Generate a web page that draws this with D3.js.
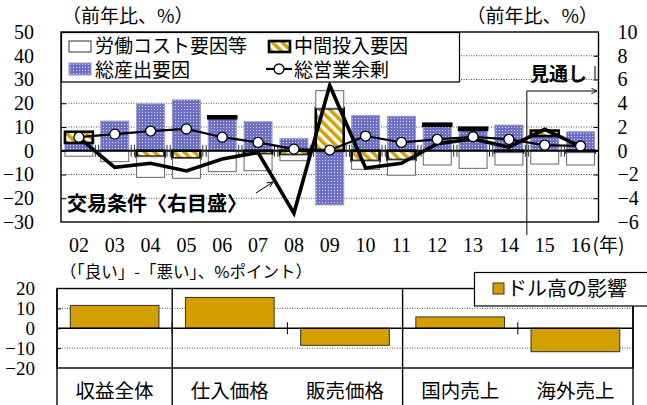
<!DOCTYPE html>
<html>
<head>
<meta charset="utf-8">
<script src="https://cdn.jsdelivr.net/npm/d3@7"></script>
<style>
  html, body { margin: 0; padding: 0; background: #fff; }
  svg { display: block; }
</style>
</head>
<body>
<svg id="chart" width="647" height="405"></svg>
<script>
// ---- data: profit decomposition (year-on-year %) ----
const years = ["02","03","04","05","06","07","08","09","10","11","12","13","14","15","16"];
const outputFactor = [3.3, 12.5, 19.7, 21.4, 13.7, 12.2, 5.2, -22.8, 14.8, 14.5, 10.5, 8.8, 10.8, 6.2, 8.0];
const inputFactor  = [4.7, 0.0, -2.5, -3.2, 0.8, -1.4, -1.8, 17.9, -4.3, -3.9, 0.9, 0.9, -0.8, 2.3, -0.8];
const laborFactor  = [-2.3, -4.6, -8.7, -8.4, -8.8, -7.0, -2.4, 7.4, -3.5, -6.4, -6.0, -7.4, -5.2, -5.6, -5.2];
const grossSurplus = [5.7, 7.0, 8.3, 9.2, 5.7, 3.5, 0.7, 0.3, 6.2, 3.5, 4.8, 5.9, 4.8, 2.4, 2.0];
const termsOfTrade = [1.1, -1.4, -1.05, -1.7, -0.7, -0.15, -5.25, 5.5, -1.45, -1.05, 0.6, 1.0, 0.3, 1.8, 0.35];
const leftTicks  = [50, 40, 30, 20, 10, 0, -10, -20, -30];
const rightTicks = [10, 8, 6, 4, 2, 0, -2, -4, -6];
const gridTicks  = [40, 30, 20, 10, -10, -20];

// ---- data: effect of a strong dollar (DI, % points) ----
const dollarCats = ["収益全体", "仕入価格", "販売価格", "国内売上", "海外売上"];
const dollarVals = [11.5, 15.5, -8.6, 5.7, -11.8];
const bottomTicks = [20, 10, 0, -10, -20];

const JP = "'Noto Sans CJK JP', 'Noto Sans', sans-serif";
const NUM = "'Liberation Serif', 'Times New Roman', serif";
const GOLD = "#D4A000";

const svg = d3.select("#chart");
const defs = svg.append("defs");

// dotted blue fill
const dots = defs.append("pattern").attr("id", "dots")
  .attr("patternUnits", "userSpaceOnUse").attr("width", 3).attr("height", 3);
dots.append("rect").attr("width", 3).attr("height", 3).attr("fill", "#6c70c6");
dots.append("rect").attr("x", 1).attr("y", 1).attr("width", 1).attr("height", 1).attr("fill", "#d4d6f4");

// diagonal gold hatch
const hatch = defs.append("pattern").attr("id", "hatch")
  .attr("patternUnits", "userSpaceOnUse").attr("width", 7).attr("height", 7)
  .attr("patternTransform", "rotate(-45)");
hatch.append("rect").attr("width", 7).attr("height", 7).attr("fill", "#fff");
hatch.append("rect").attr("width", 3.6).attr("height", 7).attr("fill", GOLD);

defs.append("marker").attr("id", "arrow").attr("viewBox", "0 0 10 10")
  .attr("refX", 9).attr("refY", 5).attr("markerWidth", 7).attr("markerHeight", 7)
  .attr("orient", "auto-start-reverse").attr("markerUnits", "userSpaceOnUse")
  .append("path").attr("d", "M1,1 L9,5 L1,9").attr("fill", "none").attr("stroke", "#000").attr("stroke-width", 1.3);

// ================= upper panel =================
const upper = { l: 61, r: 598.5, t: 32, b: 222 };
const x = d3.scaleBand().domain(years).range([upper.l, upper.r]).paddingInner(0.22).paddingOuter(0.11);
const yL = d3.scaleLinear().domain([-30, 50]).range([upper.b, upper.t]);
const yR = d3.scaleLinear().domain([-6, 10]).range([upper.b, upper.t]);

// gridlines
svg.append("g").selectAll("line").data(gridTicks).join("line")
  .attr("x1", upper.l).attr("x2", upper.r)
  .attr("y1", d => yL(d)).attr("y2", d => yL(d))
  .attr("stroke", "#555").attr("stroke-width", 1).attr("stroke-dasharray", "1,1.5");

// stacked bars
const rows = years.map((yr, i) => ({ year: yr, output: outputFactor[i], input: inputFactor[i], labor: laborFactor[i] }));
const series = d3.stack().keys(["output", "input", "labor"]).offset(d3.stackOffsetDiverging)(rows);
const barStyle = {
  output: { fill: "url(#dots)", stroke: "#9a9ac8", sw: 1 },
  input:  { fill: "url(#hatch)", stroke: "#000", sw: 2.6 },
  labor:  { fill: "#fff", stroke: "#666", sw: 1 }
};
series.forEach(s => {
  const st = barStyle[s.key];
  svg.append("g").selectAll("rect").data(s.filter(d => Math.abs(d[1] - d[0]) > 0.001)).join("rect")
    .attr("x", d => x(d.data.year)).attr("width", x.bandwidth())
    .attr("y", d => yL(Math.max(d[0], d[1])))
    .attr("height", d => Math.abs(yL(d[0]) - yL(d[1])))
    .attr("fill", st.fill).attr("stroke", st.stroke).attr("stroke-width", st.sw);
});

// zero line and category ticks on it
svg.append("line").attr("x1", upper.l).attr("x2", upper.r).attr("y1", yL(0)).attr("y2", yL(0))
  .attr("stroke", "#000").attr("stroke-width", 2.2);
const bounds = years.slice(1).map(d => x(d) - x.step() * x.paddingInner() / 2);
[-1.5, 1.8].forEach(off => {
  svg.append("g").selectAll("line").data(bounds).join("line")
    .attr("x1", d => d + off).attr("x2", d => d + off)
    .attr("y1", yL(0) - 6).attr("y2", yL(0) + 6)
    .attr("stroke", "#333").attr("stroke-width", 1);
});

// outlook bracket
const outlookX = (x("14") + x.bandwidth() + x("15")) / 2;
svg.append("line").attr("x1", outlookX).attr("x2", outlookX).attr("y1", 91).attr("y2", 235)
  .attr("stroke", "#000").attr("stroke-width", 1);
svg.append("line").attr("x1", outlookX).attr("x2", upper.r - 1.5).attr("y1", 91).attr("y2", 91)
  .attr("stroke", "#000").attr("stroke-width", 1).attr("marker-end", "url(#arrow)");

// terms of trade (right scale)
svg.append("path").datum(termsOfTrade)
  .attr("d", d3.line().x((d, i) => x(years[i]) + x.bandwidth() / 2).y(d => yR(d)))
  .attr("fill", "none").attr("stroke", "#000").attr("stroke-width", 3.6).attr("stroke-linejoin", "miter");

// gross operating surplus (left scale)
const cx = (d, i) => x(years[i]) + x.bandwidth() / 2;
svg.append("path").datum(grossSurplus)
  .attr("d", d3.line().x(cx).y(d => yL(d)))
  .attr("fill", "none").attr("stroke", "#000").attr("stroke-width", 2.2);
svg.append("g").selectAll("circle").data(grossSurplus).join("circle")
  .attr("cx", cx).attr("cy", d => yL(d)).attr("r", 5)
  .attr("fill", "#fff").attr("stroke", "#000").attr("stroke-width", 1.3);

// frame
svg.append("rect").attr("x", upper.l).attr("y", upper.t).attr("width", upper.r - upper.l).attr("height", upper.b - upper.t)
  .attr("fill", "none").attr("stroke", "#000").attr("stroke-width", 1.4);

// axes
const axL = svg.append("g").attr("transform", `translate(${upper.l},0)`)
  .call(d3.axisLeft(yL).tickValues(leftTicks).tickSize(-5).tickPadding(27).tickFormat(d3.format("d")));
const axR = svg.append("g").attr("transform", `translate(${upper.r},0)`)
  .call(d3.axisRight(yR).tickValues(rightTicks).tickSize(-5).tickPadding(19).tickFormat(d3.format("d")));
[axL, axR].forEach(a => {
  a.select(".domain").remove();
  a.selectAll(".tick line").attr("stroke", "#000");
  a.selectAll("text").attr("font-family", NUM).attr("font-size", 20).attr("fill", "#000");
});
axR.selectAll(".tick").filter(d => d === 10 || d === -6).select("line").remove();
axL.selectAll(".tick").filter(d => d === 50 || d === -30).select("line").remove();

// category labels
svg.append("g").selectAll("text").data(years).join("text")
  .attr("x", d => x(d) + x.bandwidth() / 2).attr("y", 252)
  .attr("text-anchor", "middle").attr("font-family", NUM).attr("font-size", 20)
  .text(d => d);
svg.append("text").attr("x", x("16") + x.bandwidth() / 2 + 12).attr("y", 252)
  .attr("font-family", JP).attr("font-size", 19).text("(年)");

// unit labels
svg.append("text").attr("x", 62).attr("y", 23).attr("font-family", JP).attr("font-size", 19).text("（前年比、%）");
svg.append("text").attr("x", 598).attr("y", 23).attr("text-anchor", "end").attr("font-family", JP).attr("font-size", 19).text("（前年比、%）");

// legend
const lg = svg.append("g");
lg.append("rect").attr("x", upper.l + 0.5).attr("y", upper.t + 0.5).attr("width", 398).attr("height", 49.5)
  .attr("fill", "#fff").attr("stroke", "#000").attr("stroke-width", 1.2);
lg.append("rect").attr("x", 69).attr("y", 41).attr("width", 22).attr("height", 11)
  .attr("fill", "#fff").attr("stroke", "#555").attr("stroke-width", 1.2);
lg.append("rect").attr("x", 269).attr("y", 41).attr("width", 21).attr("height", 11)
  .attr("fill", "url(#hatch)").attr("stroke", "#000").attr("stroke-width", 2.6);
lg.append("rect").attr("x", 69).attr("y", 63).attr("width", 22).attr("height", 12)
  .attr("fill", "url(#dots)").attr("stroke", "#9a9ac8").attr("stroke-width", 1);
lg.append("line").attr("x1", 266).attr("x2", 292).attr("y1", 69).attr("y2", 69).attr("stroke", "#000").attr("stroke-width", 2.2);
lg.append("circle").attr("cx", 279).attr("cy", 69).attr("r", 5).attr("fill", "#fff").attr("stroke", "#000").attr("stroke-width", 1.3);
const legendText = [
  { x: 95, y: 53, t: "労働コスト要因等" },
  { x: 294, y: 53, t: "中間投入要因" },
  { x: 95, y: 77, t: "総産出要因" },
  { x: 294, y: 77, t: "総営業余剰" }
];
lg.selectAll("text").data(legendText).join("text")
  .attr("x", d => d.x).attr("y", d => d.y).attr("font-family", JP).attr("font-size", 19).text(d => d.t);

// annotations
svg.append("text").attr("x", 530).attr("y", 81).attr("font-family", JP).attr("font-size", 19)
  .attr("font-weight", "bold").text("見通し");
svg.append("line").attr("x1", 595).attr("x2", 595).attr("y1", 66).attr("y2", 79).attr("stroke", "#000").attr("stroke-width", 1);
svg.append("text").attr("x", 67).attr("y", 211).attr("font-family", JP).attr("font-size", 20)
  .attr("font-weight", "bold").text("交易条件〈右目盛〉");
svg.append("line").attr("x1", 256).attr("y1", 193).attr("x2", 273).attr("y2", 182)
  .attr("stroke", "#000").attr("stroke-width", 1).attr("marker-end", "url(#arrow)");

// ================= lower panel =================
const lower = { l: 57, r: 633, t: 288.5, b: 368 };
const xb = d3.scaleBand().domain(dollarCats).range([lower.l, lower.r]).paddingInner(0.23).paddingOuter(0.115);
const yb = d3.scaleLinear().domain([-20, 20]).range([lower.b, lower.t]);

svg.append("g").selectAll("line").data([10, -10]).join("line")
  .attr("x1", lower.l).attr("x2", lower.r).attr("y1", d => yb(d)).attr("y2", d => yb(d))
  .attr("stroke", "#555").attr("stroke-dasharray", "1,1.5");

svg.append("g").selectAll("rect").data(dollarVals).join("rect")
  .attr("x", (d, i) => xb(dollarCats[i])).attr("width", xb.bandwidth())
  .attr("y", d => yb(Math.max(0, d))).attr("height", d => Math.abs(yb(d) - yb(0)))
  .attr("fill", GOLD).attr("stroke", "#333").attr("stroke-width", 1);

svg.append("line").attr("x1", lower.l).attr("x2", lower.r).attr("y1", yb(0)).attr("y2", yb(0))
  .attr("stroke", "#000").attr("stroke-width", 1.4);
const bBounds = dollarCats.slice(1).map(d => xb(d) - xb.step() * xb.paddingInner() / 2);
svg.append("g").selectAll("line").data(bBounds).join("line")
  .attr("x1", d => d).attr("x2", d => d).attr("y1", yb(0) - 6).attr("y2", yb(0) + 6)
  .attr("stroke", "#000").attr("stroke-width", 1);

// frame and group dividers
svg.append("rect").attr("x", lower.l).attr("y", lower.t).attr("width", lower.r - lower.l).attr("height", lower.b - lower.t)
  .attr("fill", "none").attr("stroke", "#000").attr("stroke-width", 1.4);
[lower.l, bBounds[0], bBounds[2], lower.r].forEach(px => {
  svg.append("line").attr("x1", px).attr("x2", px).attr("y1", lower.t).attr("y2", 405)
    .attr("stroke", "#000").attr("stroke-width", 1.4);
});

const axB = svg.append("g").attr("transform", `translate(${lower.l},0)`)
  .call(d3.axisLeft(yb).tickValues(bottomTicks).tickSize(-4).tickPadding(22).tickFormat(d3.format("d")));
axB.select(".domain").remove();
axB.selectAll(".tick").filter(d => d === 20 || d === -20).select("line").remove();
axB.selectAll("text").attr("font-family", NUM).attr("font-size", 19).attr("fill", "#000");

svg.append("g").selectAll("text").data(dollarCats).join("text")
  .attr("x", d => xb(d) + xb.bandwidth() / 2).attr("y", 398)
  .attr("text-anchor", "middle").attr("font-family", JP).attr("font-size", 19.5).text(d => d);

svg.append("text").attr("x", 60).attr("y", 278).attr("font-family", JP).attr("font-size", 16.5)
  .text("（「良い」-「悪い」、%ポイント）");

// legend
svg.append("rect").attr("x", 474.5).attr("y", 272.5).attr("width", 180).attr("height", 33.5)
  .attr("fill", "#fff").attr("stroke", "#000").attr("stroke-width", 1.2);
svg.append("rect").attr("x", 493).attr("y", 283).attr("width", 11).attr("height", 11)
  .attr("fill", GOLD).attr("stroke", "#333").attr("stroke-width", 1);
svg.append("text").attr("x", 507).attr("y", 296).attr("font-family", JP).attr("font-size", 20).text("ドル高の影響");
</script>
</body>
</html>
